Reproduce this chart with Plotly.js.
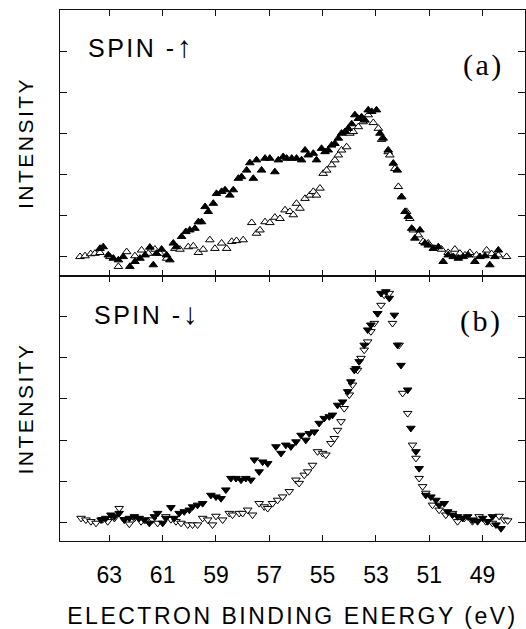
<!DOCTYPE html>
<html>
<head>
<meta charset="utf-8">
<script src="https://cdn.plot.ly/plotly-3.0.1.min.js"></script>
<style>
  html, body { margin: 0; padding: 0; background: #fff; }
  #chart { width: 526px; height: 629px; }
  .xtitle, .ytitle, .y2title { letter-spacing: 2.5px; }
  .annotation-text { letter-spacing: 2.5px; }
</style>
</head>
<body>
<div id="chart"></div>
<script>
// ---- Panel (a): spin-up, filled and open up-triangles ----
const aFilledE = [63.35,63.23,63.04,62.85,62.66,62.48,62.23,62.04,61.85,61.66,61.48,61.35,61.23,61.04,60.85,60.73,60.60,60.48,60.29,60.13,59.98,59.79,59.66,59.54,59.41,59.29,59.10,58.98,58.79,58.66,58.48,58.35,58.16,58.04,57.85,57.73,57.60,57.48,57.29,57.16,56.98,56.79,56.66,56.48,56.35,56.16,55.98,55.79,55.66,55.54,55.35,55.23,55.04,54.91,54.79,54.66,54.54,54.41,54.29,54.16,54.04,53.91,53.79,53.66,53.54,53.41,53.29,53.16,52.98,52.85,52.73,52.54,52.35,52.20,52.04,51.91,51.79,51.66,51.54,51.35,51.16,51.04,50.85,50.66,50.48,50.29,50.10,49.91,49.73,49.54,49.29,49.10,48.91,48.73,48.54,48.41];
const aFilledI = [0.20,0.24,0.04,-0.04,-0.08,0.00,-0.24,-0.12,-0.04,0.04,0.23,-0.20,0.08,0.18,0.04,-0.08,0.33,0.24,0.49,0.61,0.65,0.69,0.85,0.85,1.22,1.10,1.30,1.54,1.59,1.63,1.50,1.63,1.91,1.95,2.11,2.29,1.91,2.36,2.11,2.40,2.40,2.07,2.36,2.44,2.40,2.40,2.40,2.36,2.60,2.48,2.52,2.36,2.64,2.56,2.60,2.72,2.76,2.89,3.01,3.05,3.13,3.24,3.46,3.37,3.41,3.33,3.58,3.54,3.58,3.01,2.89,2.60,2.28,2.11,1.46,1.10,0.98,0.69,0.45,0.65,0.33,0.28,0.20,0.24,-0.12,0.04,0.00,-0.04,0.00,0.04,-0.12,0.00,0.02,-0.20,0.00,0.16];
const aOpenE = [64.10,63.91,63.70,63.54,63.35,62.98,62.66,62.35,62.04,61.79,61.54,61.29,61.10,60.85,60.54,60.35,60.04,59.85,59.66,59.48,59.23,59.04,58.79,58.60,58.41,58.23,57.98,57.66,57.48,57.35,57.16,56.98,56.79,56.60,56.41,56.23,56.10,55.98,55.85,55.66,55.48,55.35,55.23,55.10,54.98,54.85,54.66,54.54,54.41,54.29,54.10,53.98,53.85,53.66,53.48,53.29,53.10,52.91,52.79,52.54,52.48,52.29,52.16,52.04,51.85,51.73,51.60,51.41,51.23,51.04,50.79,50.54,50.29,50.04,49.85,49.66,49.48,49.23,48.85,48.66,48.41,48.10];
const aOpenI = [0.00,0.02,0.07,0.08,0.10,0.00,-0.24,0.12,0.02,0.16,0.08,0.18,0.08,-0.04,0.20,0.18,0.24,0.26,0.10,0.18,0.41,0.20,0.33,0.20,0.37,0.39,0.41,0.83,0.57,0.65,0.85,0.83,0.96,0.93,1.14,1.10,1.02,1.30,1.18,1.42,1.50,1.59,1.50,1.67,2.03,2.11,2.24,2.36,2.48,2.60,2.68,3.01,3.05,3.17,3.29,3.46,3.27,3.13,2.86,2.56,2.48,2.15,1.71,1.46,1.10,0.93,0.65,0.53,0.37,0.33,0.20,0.18,0.10,0.18,0.08,0.04,0.10,0.04,0.16,0.07,0.04,0.00];

// ---- Panel (b): spin-down, filled and open down-triangles ----
const bFilledE = [63.31,63.13,62.94,62.81,62.63,62.44,62.25,62.06,61.88,61.69,61.50,61.31,61.19,61.00,60.88,60.69,60.56,60.38,60.19,60.00,59.88,59.69,59.50,59.19,59.00,58.81,58.63,58.44,58.25,58.06,57.88,57.69,57.56,57.38,57.25,57.06,56.75,56.56,56.38,56.19,56.00,55.81,55.63,55.50,55.31,55.13,54.94,54.75,54.63,54.44,54.25,54.06,53.94,53.81,53.75,53.63,53.44,53.31,53.19,52.94,52.81,52.63,52.50,52.31,52.19,52.06,51.81,51.69,51.50,51.38,51.13,50.94,50.75,50.63,50.44,50.31,50.13,49.94,49.75,49.56,49.38,49.19,49.00,48.81,48.63,48.50,48.31];
const bFilledI = [0.06,0.10,0.18,0.14,0.22,0.06,0.10,0.14,0.10,0.06,-0.02,0.14,0.22,-0.02,0.10,0.36,0.10,0.22,0.26,0.30,0.38,0.42,0.46,0.66,0.62,0.58,0.79,1.07,1.07,1.03,1.07,1.03,1.52,1.23,1.47,1.43,1.84,1.68,1.88,1.84,1.96,2.12,2.00,2.16,2.20,2.41,2.53,2.57,2.61,2.85,2.93,3.18,3.42,3.70,3.74,3.91,4.31,4.68,4.80,5.08,5.57,5.61,5.45,5.04,4.31,3.82,3.22,2.29,1.72,1.31,0.66,0.62,0.54,0.42,0.46,0.26,0.18,0.14,0.10,0.14,0.06,0.02,0.10,0.02,0.14,-0.06,-0.15];
const bOpenE = [64.06,63.88,63.69,63.50,63.25,63.06,62.81,62.63,62.44,62.25,62.06,61.81,61.63,61.38,61.19,60.88,60.69,60.50,60.31,60.06,59.88,59.69,59.50,59.31,59.13,59.00,58.75,58.50,58.38,58.13,58.00,57.81,57.63,57.38,57.19,57.06,56.88,56.69,56.50,56.25,56.00,55.88,55.69,55.56,55.38,55.19,55.00,54.88,54.69,54.56,54.44,54.31,54.19,54.00,53.88,53.69,53.56,53.44,53.31,53.19,53.06,52.94,52.81,52.69,52.50,52.38,52.13,52.00,51.81,51.63,51.50,51.38,51.25,51.13,50.88,50.63,50.38,50.13,49.94,49.69,49.38,49.13,48.88,48.63,48.38,48.19,48.06];
const bOpenI = [0.10,0.06,0.02,-0.02,0.07,0.02,0.10,0.34,0.07,-0.04,0.10,0.02,0.06,0.06,-0.02,0.14,0.07,0.02,-0.02,-0.06,-0.06,-0.06,0.10,0.06,-0.06,0.15,0.06,0.22,0.18,0.22,0.22,0.30,0.18,0.46,0.38,0.34,0.46,0.54,0.62,0.75,1.03,0.95,1.15,1.23,1.39,1.72,1.68,1.64,1.92,2.04,2.24,2.45,2.77,3.10,3.34,3.70,3.99,4.19,4.39,4.64,4.84,5.08,5.28,5.53,5.57,4.84,4.31,3.14,2.65,1.88,1.56,1.07,0.87,0.71,0.42,0.30,0.18,0.22,0.02,0.10,0.02,0.14,0.02,-0.02,0.15,0.06,0.04];

// ---- Axis ticks and texts ----
const xTickVals = [63, 61, 59, 57, 55, 53, 51, 49];
const xTickText = ['63', '61', '59', '57', '55', '53', '51', '49'];
const yTickVals = [0, 1, 2, 3, 4, 5];
const xTitle = 'ELECTRON BINDING ENERGY (eV)';
const yTitle = 'INTENSITY';
const panelLabels = ['(a)', '(b)'];
const spinWord = 'SPIN -';
const spinArrows = ['\u2191', '\u2193'];

const SANS = 'Liberation Sans, Arial, sans-serif';
const SERIF = 'Liberation Serif, Times New Roman, serif';

function spinText(i) {
  return spinWord + '<span style="font-size:30px;font-weight:bold">' + spinArrows[i] + '</span>';
}

const traces = [
  { x: aOpenE, y: aOpenI, xaxis: 'x2', yaxis: 'y2', type: 'scatter', mode: 'markers',
    marker: { symbol: 'triangle-up', size: 7.5, color: '#fff', line: { color: '#000', width: 1 } } },
  { x: aFilledE, y: aFilledI, xaxis: 'x2', yaxis: 'y2', type: 'scatter', mode: 'markers',
    marker: { symbol: 'triangle-up', size: 7.5, color: '#000', line: { color: '#000', width: 1 } } },
  { x: bOpenE, y: bOpenI, xaxis: 'x', yaxis: 'y', type: 'scatter', mode: 'markers',
    marker: { symbol: 'triangle-down', size: 7.5, color: '#fff', line: { color: '#000', width: 1 } } },
  { x: bFilledE, y: bFilledI, xaxis: 'x', yaxis: 'y', type: 'scatter', mode: 'markers',
    marker: { symbol: 'triangle-down', size: 7.5, color: '#000', line: { color: '#000', width: 1 } } }
];

const commonX = {
  range: [64.85, 47.41], tickvals: xTickVals, ticktext: xTickText,
  ticks: 'inside', ticklen: 6, tickwidth: 1, tickcolor: '#111',
  showline: true, linecolor: '#111', linewidth: 1, mirror: 'ticks',
  showgrid: false, zeroline: false
};
const commonY = {
  tickvals: yTickVals, ticks: 'inside', ticklen: 7, tickwidth: 1, tickcolor: '#111',
  showline: true, linecolor: '#111', linewidth: 1, mirror: 'ticks',
  showgrid: false, zeroline: false, showticklabels: false
};

const layout = {
  width: 526, height: 629,
  margin: { l: 60, r: 1, t: 10, b: 88 },
  paper_bgcolor: '#fff', plot_bgcolor: '#fff',
  showlegend: false,
  font: { family: SANS, color: '#000' },
  xaxis: Object.assign({}, commonX, {
    anchor: 'y', domain: [0, 1],
    tickfont: { family: SANS, size: 23, color: '#000' },
    ticklabelstandoff: 13,
    title: { text: xTitle, font: { family: SANS, size: 23, color: '#000' }, standoff: 21 }
  }),
  xaxis2: Object.assign({}, commonX, {
    anchor: 'y2', domain: [0, 1], matches: 'x', showticklabels: false
  }),
  yaxis: Object.assign({}, commonY, {
    anchor: 'x', domain: [0, 0.4991], range: [-0.455, 5.99],
    title: { text: yTitle, font: { family: SANS, size: 21, color: '#000' }, standoff: 19 }
  }),
  yaxis2: Object.assign({}, commonY, {
    anchor: 'x2', domain: [0.4991, 1], range: [-0.47, 6.02],
    title: { text: yTitle, font: { family: SANS, size: 21, color: '#000' }, standoff: 19 }
  }),
  annotations: [
    { text: spinText(0), xref: 'paper', yref: 'paper', x: 0.056, y: 0.932, xanchor: 'left', yanchor: 'middle',
      showarrow: false, font: { family: SANS, size: 25, color: '#000' } },
    { text: spinText(1), xref: 'paper', yref: 'paper', x: 0.069, y: 0.429, xanchor: 'left', yanchor: 'middle',
      showarrow: false, font: { family: SANS, size: 25, color: '#000' } },
    { text: panelLabels[0], xref: 'paper', yref: 'paper', x: 0.910, y: 0.896, xanchor: 'center', yanchor: 'middle',
      showarrow: false, font: { family: SERIF, size: 30, color: '#000' } },
    { text: panelLabels[1], xref: 'paper', yref: 'paper', x: 0.905, y: 0.414, xanchor: 'center', yanchor: 'middle',
      showarrow: false, font: { family: SERIF, size: 30, color: '#000' } }
  ]
};

Plotly.newPlot('chart', traces, layout, { displayModeBar: false, staticPlot: true });
</script>
</body>
</html>
